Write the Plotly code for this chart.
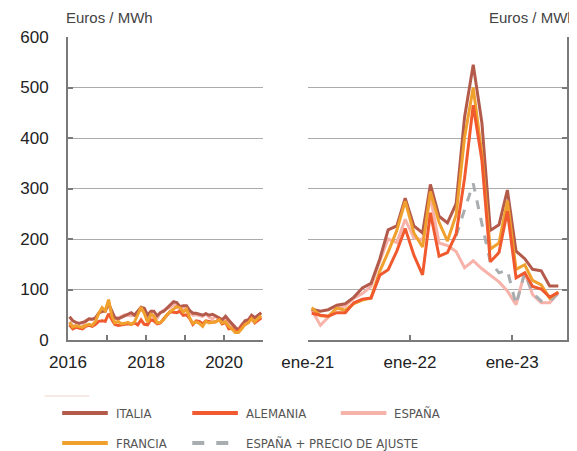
import pandas as pd
import plotly.graph_objects as go
from plotly.subplots import make_subplots

# monthly averages, euros / MWh
months_a = pd.date_range("2016-01-01", periods=60, freq="MS") + pd.Timedelta(days=14)
months_b = pd.date_range("2021-01-01", periods=30, freq="MS") + pd.Timedelta(days=14)

italia_a = [46, 38, 35, 33, 35, 37, 42, 41, 44, 53, 57, 57,
            72, 56, 44, 42, 45, 49, 51, 54, 49, 57, 65, 63,
            49, 57, 57, 48, 54, 57, 63, 68, 76, 74, 66, 68,
            68, 58, 53, 53, 51, 49, 52, 49, 51, 48, 44, 40,
            47, 39, 32, 25, 20, 28, 38, 40, 49, 44, 49, 54]
alemania_a = [30, 22, 25, 24, 22, 27, 29, 27, 31, 37, 38, 37,
              52, 40, 31, 29, 30, 30, 32, 31, 34, 30, 40, 31,
              30, 40, 38, 32, 34, 42, 49, 56, 55, 54, 57, 49,
              50, 42, 31, 38, 37, 32, 38, 37, 35, 36, 41, 32,
              35, 22, 23, 17, 18, 26, 30, 35, 43, 34, 39, 44]
espana_a = [36, 28, 28, 24, 26, 39, 41, 41, 44, 53, 56, 60,
            71, 52, 43, 44, 47, 50, 49, 48, 49, 57, 59, 58,
            50, 55, 40, 43, 55, 59, 62, 64, 71, 65, 62, 62,
            62, 54, 49, 50, 48, 47, 52, 45, 42, 47, 42, 34,
            41, 36, 28, 18, 21, 31, 35, 36, 42, 37, 42, 42]
francia_a = [35, 26, 28, 26, 25, 29, 31, 29, 37, 53, 64, 58,
             80, 47, 34, 37, 32, 33, 35, 31, 36, 50, 65, 53,
             35, 51, 48, 34, 35, 40, 50, 56, 62, 66, 64, 55,
             61, 43, 33, 36, 33, 27, 37, 34, 35, 36, 40, 34,
             36, 27, 22, 15, 15, 22, 31, 34, 42, 36, 43, 48]

italia_b = [61, 57, 60, 69, 72, 85, 103, 112, 160, 218, 226, 281,
            226, 212, 308, 245, 232, 270, 441, 545, 430, 217, 228, 297,
            176, 161, 140, 137, 107, 107]
alemania_b = [53, 49, 47, 54, 54, 74, 81, 83, 128, 139, 176, 221,
              168, 129, 252, 166, 173, 210, 320, 465, 356, 155, 173, 255,
              123, 133, 106, 101, 85, 94]
espana_b = [60, 29, 45, 65, 67, 83, 92, 106, 156, 200, 193, 239,
            202, 198, 283, 192, 187, 175, 143, 157, 141, 128, 115, 97,
            70, 134, 90, 74, 74, 93]
francia_b = [64, 48, 47, 63, 59, 72, 79, 83, 136, 174, 217, 275,
             212, 184, 294, 233, 196, 248, 401, 500, 367, 180, 192, 276,
             140, 149, 118, 109, 83, 95]
ajuste_b = [None] * 17 + [207, 260, 310, 230, 155, 133, 138,
                          70, 133, 93, 77, 76, 93]

colors = {"ITALIA": "#b35a4b", "ALEMANIA": "#f05a2e", "ESPAÑA": "#f7b2a9",
          "FRANCIA": "#f0a02c", "ESPAÑA + PRECIO DE AJUSTE": "#a8adb0"}

# page body has an 8px margin, so everything is laid out 8px up/left
OFF = 8
W, H = 577, 451
ML, MT = 53 - OFF, 37 - OFF
PW, PH = 514, 303
MR, MB = W - ML - PW, H - MT - PH


def px(x):
    return (x - OFF - ML) / PW


def py(y):
    return (MT + PH - (y - OFF)) / PH


fig = make_subplots(rows=1, cols=2)

series_a = [("ESPAÑA", espana_a), ("ITALIA", italia_a), ("ALEMANIA", alemania_a), ("FRANCIA", francia_a)]
series_b = [("ESPAÑA", espana_b), ("ESPAÑA + PRECIO DE AJUSTE", ajuste_b), ("ITALIA", italia_b),
            ("FRANCIA", francia_b), ("ALEMANIA", alemania_b)]

for name, vals in series_a:
    fig.add_trace(go.Scatter(x=months_a, y=vals, mode="lines", name=name, showlegend=False,
                             line=dict(color=colors[name], width=3)), row=1, col=1)
for name, vals in series_b:
    dash = "dash" if "AJUSTE" in name else "solid"
    fig.add_trace(go.Scatter(x=months_b, y=vals, mode="lines", name=name, showlegend=False,
                             line=dict(color=colors[name], width=3, dash=dash)), row=1, col=2)

tick_font = dict(family="Liberation Sans, Arial", size=17, color="#222")
axis_common = dict(showline=True, linecolor="#7a7a7a", linewidth=2, ticks="inside",
                   tickcolor="#7a7a7a", ticklen=5, tickwidth=1.5, tickfont=tick_font,
                   zeroline=False)

fig.update_xaxes(axis_common, showgrid=False, ticklabelstandoff=6)
fig.update_xaxes(domain=[0, px(254)], range=["2016-01-01", "2021-01-01"],
                 tickvals=["2016-01-01", "2017-01-01", "2018-01-01", "2019-01-01", "2020-01-01", "2021-01-01"],
                 ticktext=["2016", "", "2018", "", "2020", ""], row=1, col=1)
fig.update_xaxes(domain=[px(300), 1], range=["2021-01-01", "2023-07-16"],
                 tickvals=["2021-01-01", "2022-01-01", "2023-01-01"],
                 ticktext=["ene-21", "ene-22", "ene-23"], row=1, col=2)

fig.update_yaxes(axis_common, range=[0, 600], tickvals=[0, 100, 200, 300, 400, 500, 600],
                 showgrid=True, gridcolor="#ababab", gridwidth=1.3)
fig.update_yaxes(ticklabelstandoff=14, row=1, col=1)
fig.update_yaxes(side="right", showticklabels=False, row=1, col=2)

# legend drawn by hand
legend_font = dict(family="DejaVu Sans Condensed, Liberation Sans Narrow, Liberation Sans",
                   size=13, color="#555")
legend_rows = [[("ITALIA", 47), ("ALEMANIA", 181), ("ESPAÑA", 334)],
               [("FRANCIA", 47), ("ESPAÑA + PRECIO DE AJUSTE", 181)]]
for yy, row in zip([413, 443], legend_rows):
    for name, x0 in row:
        fig.add_shape(type="line", xref="paper", yref="paper",
                      x0=px(x0), x1=px(x0 + 47), y0=py(yy), y1=py(yy),
                      line=dict(color=colors[name], width=4,
                                dash="dash" if "AJUSTE" in name else "solid"))
        fig.add_annotation(x=px(x0 + 53), y=py(yy), xref="paper", yref="paper", text=name,
                           showarrow=False, xanchor="left", yanchor="middle", font=legend_font)

fig.add_shape(type="line", xref="paper", yref="paper", x0=px(29), x1=px(75), y0=py(396), y1=py(396),
              line=dict(color="#f3d3cc", width=1))

unit_font = dict(family="Liberation Sans, Arial", size=15, color="#444")
fig.add_annotation(x=px(49), y=py(17), xref="paper", yref="paper", text="Euros / MWh",
                   showarrow=False, xanchor="left", yanchor="middle", font=unit_font)
fig.add_annotation(x=px(578), y=py(17), xref="paper", yref="paper", text="Euros / MWh",
                   showarrow=False, xanchor="right", yanchor="middle", font=unit_font)

fig.update_layout(width=W, height=H, margin=dict(l=ML, r=MR, t=MT, b=MB),
                  paper_bgcolor="white", plot_bgcolor="white", showlegend=False)

fig.write_html("out.html")
